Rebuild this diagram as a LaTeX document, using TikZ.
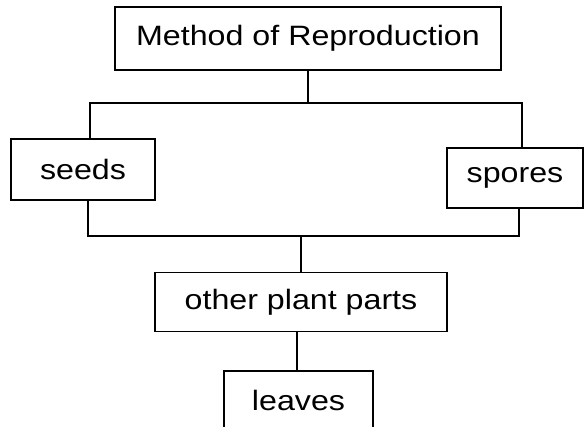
\documentclass[tikz,border=0pt]{standalone}
\usepackage{fontspec}
\setmainfont[FakeStretch=1.15]{Liberation Sans}
\usetikzlibrary{positioning}

\begin{document}
\begin{tikzpicture}[x=1pt,y=-1pt,
  box/.style={draw,line width=1.7pt,minimum height=60pt,inner sep=0pt,font=\fontsize{28}{32}\selectfont},
  link/.style={line width=1.7pt}
]
\useasboundingbox (0,0) rectangle (584,427);
\node[box, minimum width=386pt, minimum height=63pt] (method) at (308,38.5) {Method of Reproduction};
\node[box, minimum width=144pt, minimum height=61pt, below=67pt of method, xshift=-225pt] (seeds) {seeds};
\node[box, minimum width=136pt, below=76pt of method, xshift=207pt] (spores) {spores};
\node[box, minimum width=292pt, minimum height=59pt, below=71pt of seeds, xshift=218pt] (other) {other plant parts};
\node[box, minimum width=149pt, minimum height=59pt, below=38pt of other, xshift=-2.5pt] (leaves) {leaves};
% branch lines
\coordinate (upbar) at (0,103);
\coordinate (lowbar) at (0,236);
\draw[link] (method.south) -- (method.south |- upbar);
\draw[link] ([xshift=7pt]seeds.north) -- ([xshift=7pt]seeds.north |- upbar) -- ([xshift=7pt]spores.north |- upbar) -- ([xshift=7pt]spores.north);
\draw[link] ([xshift=5pt]seeds.south) -- ([xshift=5pt]seeds.south |- lowbar) -- ([xshift=4pt]spores.south |- lowbar) -- ([xshift=4pt]spores.south);
\draw[link] (other.north) -- (other.north |- lowbar);
\draw[link] ([xshift=-4pt]other.south) -- ([xshift=-4pt]other.south |- leaves.north);
\end{tikzpicture}
\end{document}
